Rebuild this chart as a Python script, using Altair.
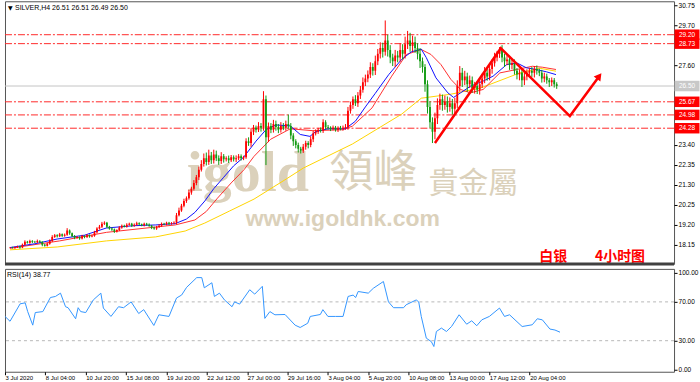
import json
import numpy as np
import pandas as pd
import altair as alt

FONT = "Liberation Sans, Arial, sans-serif"
CJK = "Noto Sans CJK SC"
RED = "#ff0000"
GREEN = "#119a11"

# ---------------- data ----------------
closes = [
    18.00, 17.98, 18.02, 18.05, 18.00, 18.15, 18.30, 18.25, 18.35, 18.30, 18.28, 18.35, 18.30, 18.15, 18.10, 18.20,
    18.35, 18.55, 18.65, 18.60, 18.70, 18.62, 18.68, 18.90, 18.75, 18.60, 18.50, 18.55, 18.48, 18.60, 18.55, 18.65,
    18.58, 18.62, 18.80, 19.00, 19.10, 19.25, 19.30, 19.10, 19.00, 18.95, 18.85, 18.92, 19.05, 19.15, 19.10, 19.20,
    19.25, 19.15, 19.20, 19.28, 19.22, 19.18, 19.25, 19.20, 19.15, 19.05, 19.00, 19.08, 19.15, 19.25, 19.22, 19.30,
    19.25, 19.28, 19.30, 19.70, 19.95, 20.20, 20.45, 20.60, 20.90, 21.10, 21.40, 21.70, 22.10, 22.40, 22.70, 22.50,
    22.85, 22.60, 22.90, 22.70, 22.55, 22.80, 22.65, 22.70, 22.60, 22.75, 22.65, 22.70, 22.80, 22.70, 22.75, 23.60,
    23.50, 24.10, 24.30, 24.20, 24.40, 24.30, 25.80, 23.80, 24.40, 24.20, 24.50, 24.35, 24.20, 24.40, 24.30, 24.50,
    24.40, 23.90, 23.60, 23.40, 23.20, 23.10, 23.30, 23.50, 23.40, 23.70, 24.00, 24.10, 24.20, 24.15, 24.60, 24.35,
    24.30, 24.25, 24.30, 24.20, 24.30, 24.25, 24.30, 24.35, 25.20, 25.50, 25.80, 25.60, 26.00, 26.30, 26.70, 26.90,
    27.10, 27.50, 27.30, 27.80, 28.20, 28.50, 28.30, 28.90, 28.40, 28.00, 27.80, 28.10, 28.00, 28.40, 28.20, 28.70,
    28.90, 28.60, 28.80, 28.50, 28.20, 27.80, 27.50, 26.60, 25.40, 24.60, 24.10, 24.80, 25.50, 25.80, 25.50, 25.70,
    25.40, 25.60, 25.30, 25.60, 26.50, 27.20, 26.80, 27.00, 26.60, 26.80, 26.40, 26.50, 26.30, 26.60, 26.90, 27.20,
    27.00, 27.40, 27.70, 28.00, 28.20, 28.40, 28.00, 27.80, 27.90, 27.60, 27.70, 27.30, 27.10, 27.20, 26.80, 27.00,
    27.20, 27.30, 27.20, 27.40, 27.30, 27.20, 26.90, 27.00, 26.80, 26.70, 26.80, 26.60, 26.50,
]
# upper / lower wick lengths in cents
up_wick = [
    3, 4, 3, 5, 4, 6, 8, 5, 6, 4, 5, 7, 4, 3, 5, 6,
    8, 10, 6, 5, 7, 4, 6, 12, 5, 4, 6, 5, 4, 7, 5, 6,
    4, 5, 8, 7, 9, 10, 8, 5, 4, 6, 5, 4, 7, 6, 5, 8,
    6, 5, 7, 8, 5, 4, 6, 5, 7, 4, 5, 6, 8, 7, 5, 6,
    5, 6, 8, 12, 15, 10, 12, 9, 14, 10, 15, 12, 16, 20, 25, 30,
    30, 18, 25, 20, 15, 22, 12, 10, 14, 12, 10, 15, 12, 10, 8, 15,
    20, 18, 15, 12, 20, 15, 43, 20, 18, 15, 22, 18, 15, 20, 15, 18,
    50, 15, 12, 10, 12, 10, 15, 12, 10, 15, 14, 12, 10, 12, 15, 10,
    10, 8, 12, 10, 8, 10, 12, 15, 20, 18, 15, 22, 18, 20, 25, 20,
    22, 25, 20, 30, 25, 30, 28, 105, 30, 25, 20, 30, 25, 35, 30, 40,
    50, 40, 35, 30, 25, 30, 20, 15, 20, 30, 25, 30, 35, 30, 25, 30,
    25, 30, 22, 28, 30, 35, 25, 30, 20, 25, 20, 22, 25, 28, 25, 30,
    22, 25, 20, 25, 15, 15, 25, 20, 22, 20, 18, 20, 15, 18, 15, 20,
    18, 15, 20, 15, 18, 12, 15, 20, 15, 12, 15, 12, 10,
]
dn_wick = [
    4, 3, 5, 4, 6, 3, 5, 4, 5, 6, 4, 5, 6, 8, 5, 4,
    5, 6, 4, 7, 5, 6, 5, 6, 8, 5, 6, 4, 7, 5, 6, 5,
    6, 4, 5, 6, 5, 7, 6, 8, 6, 7, 8, 6, 5, 6, 4, 5,
    5, 7, 6, 4, 5, 6, 7, 5, 6, 8, 6, 7, 5, 6, 4, 5,
    6, 5, 4, 8, 6, 7, 8, 10, 8, 12, 10, 12, 15, 10, 14, 18,
    15, 20, 18, 15, 20, 15, 18, 12, 15, 10, 12, 15, 10, 12, 10, 8,
    15, 20, 18, 15, 12, 20, 15, 146, 25, 18, 15, 20, 18, 15, 12, 15,
    15, 20, 25, 18, 20, 15, 12, 15, 18, 12, 15, 10, 12, 10, 12, 15,
    10, 12, 8, 10, 12, 8, 10, 10, 15, 15, 20, 15, 20, 18, 15, 20,
    20, 18, 25, 22, 20, 25, 30, 20, 35, 30, 25, 30, 25, 22, 30, 25,
    25, 30, 28, 25, 30, 35, 30, 40, 35, 30, 60, 40, 30, 25, 30, 25,
    30, 25, 30, 28, 25, 30, 35, 25, 40, 20, 25, 30, 22, 25, 20, 25,
    22, 20, 25, 18, 20, 22, 25, 30, 20, 25, 22, 20, 25, 30, 35, 25,
    20, 18, 22, 25, 20, 18, 22, 20, 18, 25, 20, 18, 15,
]

blue_idx = [0, 10, 19, 30, 38.8, 50, 58.6, 66.5, 71, 74.4, 78.4, 82, 86, 90, 94, 99, 103, 107, 112.8,
            116.8, 120.7, 123, 128, 135, 139, 143, 146.9, 152.4, 157.6, 161.5, 165.5, 167.5, 171.4,
            176.2, 178.5, 181.3, 185.3, 190.4, 194.4, 199.9, 203.9, 207.8, 211.8, 215.8, 219.7]
blue_val = [18.00, 18.20, 18.45, 18.65, 19.03, 19.15, 19.19, 19.26, 19.50, 19.85, 20.45, 21.10, 21.70,
            22.30, 22.75, 23.60, 24.20, 24.45, 24.40, 23.95, 23.85, 24.10, 24.25, 24.25, 24.65, 25.40,
            26.10, 27.10, 27.90, 28.30, 28.44, 28.00, 26.93, 26.14, 25.90, 26.14, 26.49, 26.76, 27.02,
            27.63, 27.72, 27.46, 27.37, 27.25, 27.10]
red_idx = [0, 20, 38.8, 58.6, 66.5, 74.4, 79, 83.5, 89, 94.2, 98.2, 104.9, 112.8, 121.9, 133.8, 137.8,
           145.7, 153.6, 159.5, 165.5, 169.4, 173.4, 177.4, 181.3, 185.3, 190.4, 197.1, 203.9, 210.2,
           214.2, 219.7]
red_val = [17.96, 18.35, 18.80, 19.08, 19.19, 19.45, 19.90, 20.60, 21.40, 22.10, 22.80, 23.70, 24.25,
           24.15, 24.20, 24.39, 25.35, 27.02, 28.16, 28.42, 28.16, 27.63, 26.85, 26.32, 26.14, 26.32,
           27.19, 27.37, 27.54, 27.49, 27.37]
yellow_idx = [0, 19, 38.8, 58.6, 70.5, 78.4, 88.3, 98.2, 111.2, 118, 137.8, 157.6, 165.5, 177.4, 189.2,
              205, 213, 219.7]
yellow_val = [17.88, 18.03, 18.35, 18.56, 18.87, 19.29, 19.92, 20.55, 21.61, 22.18, 23.45, 25.02, 25.86,
              26.07, 26.39, 27.18, 27.44, 27.28]

rsi_idx = [0, 2, 6, 8, 9, 11, 12, 15, 18, 20, 22, 24, 25, 28, 29, 30, 32, 35, 38, 39, 42, 45, 47, 50,
           53, 55, 59, 61, 65, 68, 70, 72, 76, 78, 79, 82, 83, 85, 87, 90, 91, 93, 97, 99, 102, 103,
           105, 107, 111, 115, 117, 120, 121, 125, 126, 128, 131, 134, 136, 138, 139, 140, 144, 146,
           150, 152, 154, 158, 159, 163, 164, 165, 167, 169, 170, 171, 173, 175, 177, 180, 183, 185,
           187, 189, 192, 196, 198, 200, 205, 209, 211, 213, 216, 218, 220]
rsi_val = [55, 50, 68, 69, 60, 46, 59, 60, 74.5, 75.6, 79, 65, 64, 52.6, 64, 60, 59, 72, 79, 63.6, 55,
           65, 64, 70, 58, 62, 45.7, 56.7, 55, 74, 77, 85, 95, 95, 84.5, 89.7, 75.6, 79, 72, 65, 70,
           67.7, 82.5, 78, 86, 53, 60, 56.7, 57, 46, 43.6, 48, 55, 57, 62, 55, 55, 55, 75.6, 77, 74.5,
           80.7, 79, 84, 91, 70, 64, 64, 67, 72, 70, 55, 32.6, 29, 24, 39.5, 43, 39.5, 44.6, 56.7, 47,
           50.5, 45.4, 51.5, 55, 63.6, 55, 56.7, 44.6, 46.4, 52.6, 51.5, 42, 41, 38.77]

level_vals = [29.20, 28.73, 25.67, 24.98, 24.28]
current_price = 26.50
arrow_idx = [171, 197.5, 225.3, 237.1]
arrow_price = [23.50, 28.49, 24.92, 27.02]

# tick labels that remain visible beside the price tags
price_ticks = [18.15, 19.20, 20.25, 21.30, 22.35, 23.40, 27.60, 29.70, 30.75]
rsi_ticks = [0, 30, 70, 100]
x_tick_idx = [0, 16, 32, 48, 64, 80, 96, 112, 128, 144, 160, 176, 192, 208]
x_labels = ["3 Jul 2020", "8 Jul 04:00", "10 Jul 20:00", "15 Jul 08:00", "19 Jul 20:00", "22 Jul 12:00",
            "27 Jul 00:00", "29 Jul 16:00", "3 Aug 04:00", "5 Aug 20:00", "10 Aug 08:00", "13 Aug 00:00",
            "17 Aug 12:00", "20 Aug 04:00"]

# ---------------- frames ----------------
n = len(closes)
opens = [closes[0]] + closes[:-1]
df = pd.DataFrame({"i": np.arange(n), "open": opens, "close": closes})
body_hi = np.maximum(df["open"], df["close"])
body_lo = np.minimum(df["open"], df["close"])
df["high"] = body_hi + np.array(up_wick) / 100.0
df["low"] = body_lo - np.array(dn_wick) / 100.0
df["dir"] = np.where(df["close"] >= df["open"], "up", "down")

W, HM, HR = 670, 263, 103
xscale = alt.Scale(domain=[0, 265.2], nice=False, zero=False)
yscale = alt.Scale(domain=[17.14, 30.96], nice=False, zero=False)
rscale = alt.Scale(domain=[-2, 104], nice=False, zero=False)

yaxis = alt.Axis(orient="right", values=price_ticks, format=".2f", title=None, grid=False,
                 labelFontSize=6.5, labelFont=FONT, tickSize=3, domain=False, labelPadding=1,
                 labelColor="#000", tickColor="#000")

def X(f):
    return alt.X(f, type="quantitative", scale=xscale, axis=None)

def Y(f):
    return alt.Y(f, type="quantitative", scale=yscale, axis=yaxis)

color = alt.Color("dir:N", scale=alt.Scale(domain=["up", "down"], range=[RED, GREEN]), legend=None)

def txt(s, x, y, size, col="#000", font=FONT, align="left", weight="normal", baseline="middle"):
    return alt.Chart(pd.DataFrame({"t": [s]})).mark_text(
        align=align, baseline=baseline, fontSize=size, font=font, color=col, fontWeight=weight
    ).encode(x=alt.value(x), y=alt.value(y), text="t:N")

WM = "#dbd1bb"
watermark = [
    txt("igold", 182, 190, 58, WM, "Liberation Serif", weight="bold", baseline="alphabetic"),
    txt("領峰", 325, 186, 44, WM, CJK, baseline="alphabetic"),
    txt("貴金屬", 424, 192, 30, WM, CJK, baseline="alphabetic"),
    txt("www.igoldhk.com", 241, 225, 23, WM, "Liberation Sans", weight="bold", baseline="alphabetic"),
]

lv_df = pd.DataFrame({"v": level_vals})
levels = alt.Chart(lv_df).mark_rule(color="#ff2a2a", strokeWidth=1, strokeDash=[7, 2, 2, 2]).encode(y=Y("v"))
cur = alt.Chart(pd.DataFrame({"v": [current_price]})).mark_rule(color="#c4c4c4", strokeWidth=1).encode(y=Y("v"))

def ma(idx, val, col):
    return alt.Chart(pd.DataFrame({"i": idx, "v": val})).mark_line(color=col, strokeWidth=1, clip=True).encode(
        x=X("i"), y=Y("v"))

ma_y = ma(yellow_idx, yellow_val, "#ffd400")
ma_r = ma(red_idx, red_val, "#ff3030")
ma_b = ma(blue_idx, blue_val, "#1010ff")

base = alt.Chart(df)
wicks = base.mark_rule(strokeWidth=1, clip=True).encode(x=X("i"), y=Y("low"), y2="high:Q", color=color)
bodies = base.mark_bar(size=1.8, clip=True).encode(x=X("i"), y=Y("open"), y2="close:Q", color=color)

arr_df = pd.DataFrame({"i": arrow_idx, "v": arrow_price, "k": range(len(arrow_idx))})
arrow = alt.Chart(arr_df).mark_line(color=RED, strokeWidth=2.5, strokeJoin="miter").encode(
    x=X("i"), y=Y("v"), order="k:Q")
head = alt.Chart(arr_df.tail(1)).mark_point(shape="triangle-up", filled=True, size=70, angle=37,
                                            color=RED, opacity=1).encode(x=X("i"), y=Y("v"))

tag_vals = level_vals + [current_price]
tag_df = pd.DataFrame({"v": tag_vals, "t": [f"{v:.2f}" for v in tag_vals],
                       "c": [RED] * len(level_vals) + ["#c8c8c8"]})
tag_shape = "M-1,-0.42L1,-0.42L1,0.42L-1,0.42Z"
tags = alt.Chart(tag_df).mark_point(shape=tag_shape, size=625, filled=True, opacity=1, strokeWidth=0).encode(
    x=alt.value(683), y=Y("v"), color=alt.Color("c:N", scale=None))
tag_txt = alt.Chart(tag_df).mark_text(fontSize=6.5, font=FONT, color="white").encode(
    x=alt.value(683), y=Y("v"), text="t:N")

sep = alt.Chart(pd.DataFrame({"a": [0]})).mark_rule(color="#404040", strokeWidth=3).encode(
    y=alt.value(HM), x=alt.value(0), x2=alt.value(W))

title = [
    txt("▼", 3, 7, 6, "#000", "DejaVu Sans"),
    txt("SILVER,H4  26.51 26.51 26.49 26.50", 10, 7, 7),
    txt("白银", 535, 256, 14, RED, CJK, weight="bold"),
    txt("4小时图", 641, 256, 14, RED, CJK, align="right", weight="bold"),
]

main = alt.layer(*watermark, levels, cur, ma_y, ma_r, ma_b, wicks, bodies, arrow, head, tags, tag_txt,
                 *title, sep).properties(width=W, height=HM)

# ---------------- RSI ----------------
label_expr = json.dumps(x_labels) + "[round(datum.value/16)]"
xaxis = alt.Axis(values=x_tick_idx, labelExpr=label_expr, labelAlign="left", labelFontSize=6, labelFont=FONT,
                 tickSize=3, labelPadding=0, domain=False, grid=False, title=None, labelOverlap=False,
                 labelFlush=False, labelColor="#000", tickColor="#000")
raxis = alt.Axis(orient="right", values=rsi_ticks, format=".2f", title=None, grid=False, labelFontSize=6.5,
                 labelFont=FONT, tickSize=3, domain=False, labelPadding=1, labelColor="#000", tickColor="#000")

rl = alt.Chart(pd.DataFrame({"v": [70, 30]})).mark_rule(color="#b8b8b8", strokeDash=[3, 3], strokeWidth=1).encode(
    y=alt.Y("v:Q", scale=rscale, axis=raxis))
rline = alt.Chart(pd.DataFrame({"i": rsi_idx, "v": rsi_val})).mark_line(color="#3396ff", strokeWidth=1).encode(
    x=alt.X("i:Q", scale=xscale, axis=xaxis), y=alt.Y("v:Q", scale=rscale, axis=raxis))
rtitle = txt("RSI(14) 38.77", 2, 6, 7)
rsi = alt.layer(rl, rline, rtitle).properties(width=W, height=HR)

chart = alt.vconcat(main, rsi, spacing=2).properties(
    padding={"left": 2, "top": 0, "right": 0, "bottom": 0}, background="white"
).configure_view(stroke="#555555", strokeWidth=1)

chart.save("out.html", embed_options={"renderer": "svg", "actions": False})
